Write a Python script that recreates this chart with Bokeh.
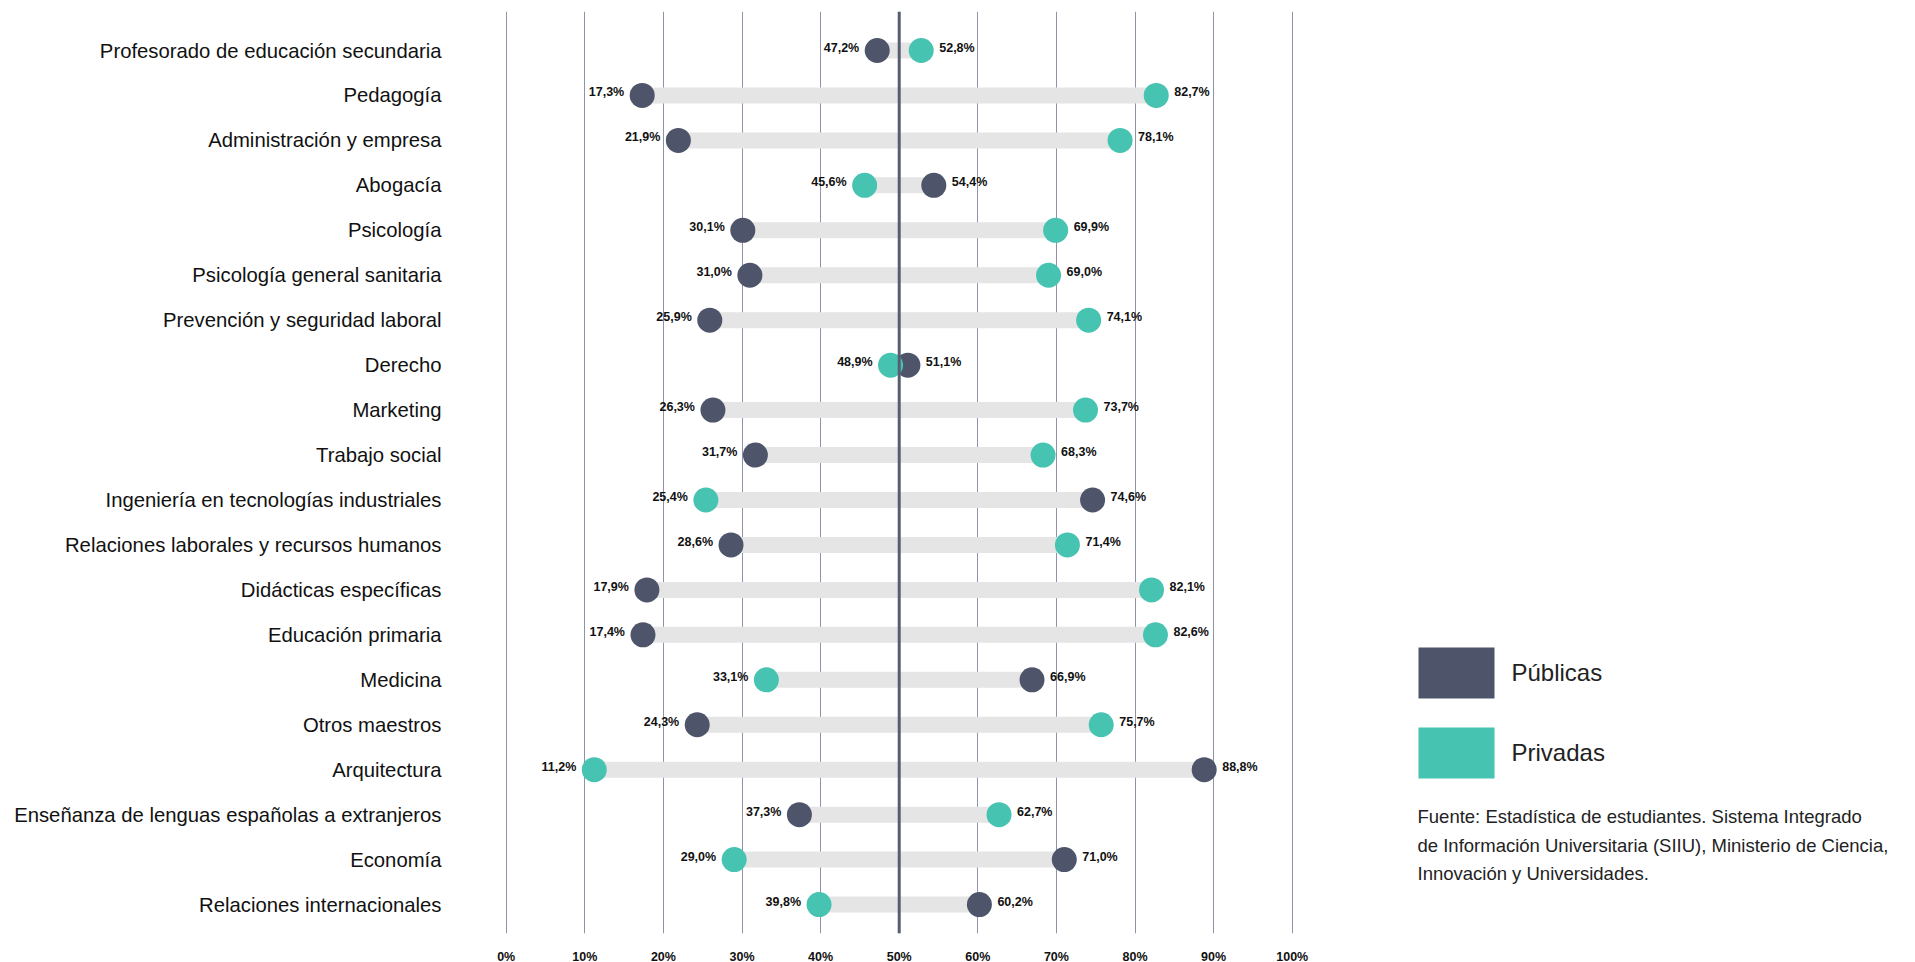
from bokeh.plotting import figure
from bokeh.models import Range1d, FixedTicker, Span, ColumnDataSource
from bokeh.core.properties import value
from bokeh.embed import file_html
from bokeh.resources import INLINE

categories = [
    "Profesorado de educación secundaria",
    "Pedagogía",
    "Administración y empresa",
    "Abogacía",
    "Psicología",
    "Psicología general sanitaria",
    "Prevención y seguridad laboral",
    "Derecho",
    "Marketing",
    "Trabajo social",
    "Ingeniería en tecnologías industriales",
    "Relaciones laborales y recursos humanos",
    "Didácticas específicas",
    "Educación primaria",
    "Medicina",
    "Otros maestros",
    "Arquitectura",
    "Enseñanza de lenguas españolas a extranjeros",
    "Economía",
    "Relaciones internacionales",
]
publicas = [47.2, 17.3, 21.9, 54.4, 30.1, 31.0, 25.9, 51.1, 26.3, 31.7,
            74.6, 28.6, 17.9, 17.4, 66.9, 24.3, 88.8, 37.3, 71.0, 60.2]
privadas = [52.8, 82.7, 78.1, 45.6, 69.9, 69.0, 74.1, 48.9, 73.7, 68.3,
            25.4, 71.4, 82.1, 82.6, 33.1, 75.7, 11.2, 62.7, 29.0, 39.8]
x_ticks = [0, 10, 20, 30, 40, 50, 60, 70, 80, 90, 100]
x_tick_labels = ["0%", "10%", "20%", "30%", "40%", "50%", "60%", "70%", "80%", "90%", "100%"]
series_names = ["Públicas", "Privadas"]
source_lines = [
    "Fuente: Estadística de estudiantes. Sistema Integrado",
    "de Información Universitaria (SIIU), Ministerio de Ciencia,",
    "Innovación y Universidades.",
]

C_PUB = "#4e5469"
C_PRIV = "#47c3b1"
C_BAR = "#e5e5e5"
C_GRID = "#8f92a8"
FONT = "Liberation Sans"

# layout (canvas pixels)
FRAME_LEFT = 490
FRAME_W = 1410
FRAME_TOP = 11
FRAME_H = 922
PX_PER_UNIT = 7.86
X_START = -2.0
ROW0 = 50.0
ROW_PX = 44.95


def dx(px):
    return X_START + (px - FRAME_LEFT) / PX_PER_UNIT


def dy(py):
    return (py - ROW0) / ROW_PX


n = len(categories)
y_top = dy(FRAME_TOP)
y_bot = dy(FRAME_TOP + FRAME_H)

p = figure(
    frame_width=FRAME_W, frame_height=FRAME_H,
    x_range=Range1d(X_START, X_START + FRAME_W / PX_PER_UNIT),
    y_range=Range1d(y_bot, y_top),
    output_backend="svg", toolbar_location=None,
    min_border_left=FRAME_LEFT, min_border_top=FRAME_TOP,
    min_border_bottom=29, min_border_right=8,
)
p.outline_line_color = None
p.background_fill_color = "white"
p.border_fill_color = "white"

# grid
p.ygrid.grid_line_color = None
p.xgrid.ticker = FixedTicker(ticks=x_ticks)
p.xgrid.grid_line_color = C_GRID
p.xgrid.grid_line_width = 1
p.add_layout(Span(location=50, dimension="height", line_color="#575d72", line_width=3))

# axes
p.xaxis.ticker = FixedTicker(ticks=x_ticks)
p.xaxis.major_label_overrides = {t: l for t, l in zip(x_ticks, x_tick_labels)}
p.xaxis.axis_line_color = None
p.xaxis.major_tick_line_color = None
p.xaxis.minor_tick_line_color = None
p.xaxis.major_label_text_font = FONT
p.xaxis.major_label_text_font_style = "bold"
p.xaxis.major_label_text_font_size = "12.5px"
p.xaxis.major_label_text_color = "#111111"
p.xaxis.major_label_standoff = 10

p.yaxis.ticker = FixedTicker(ticks=list(range(n)))
p.yaxis.major_label_overrides = {i: c for i, c in enumerate(categories)}
p.yaxis.axis_line_color = None
p.yaxis.major_tick_line_color = None
p.yaxis.minor_tick_line_color = None
p.yaxis.major_label_text_font = FONT
p.yaxis.major_label_text_font_size = "20.3px"
p.yaxis.major_label_text_color = "#111111"
p.yaxis.major_label_standoff = 43

ys = list(range(n))
lo = [min(a, b) for a, b in zip(publicas, privadas)]
hi = [max(a, b) for a, b in zip(publicas, privadas)]
src = ColumnDataSource(dict(
    y=ys, lo=lo, hi=hi, pub=publicas, priv=privadas,
    lo_txt=[f"{v:.1f}%".replace(".", ",") for v in lo],
    hi_txt=[f"{v:.1f}%".replace(".", ",") for v in hi],
))

p.segment(x0="lo", y0="y", x1="hi", y1="y", source=src, line_color=C_BAR, line_width=16, line_cap="butt")
p.scatter(x="pub", y="y", source=src, size=25, fill_color=C_PUB, line_color=None)
p.scatter(x="priv", y="y", source=src, size=25, fill_color=C_PRIV, line_color=None)

p.text(x="lo", y="y", text="lo_txt", source=src, x_offset=-18, y_offset=-3,
       text_align="right", text_baseline="middle", text_font=value(FONT),
       text_font_style="bold", text_font_size="12.5px", text_color="#111111")
p.text(x="hi", y="y", text="hi_txt", source=src, x_offset=18, y_offset=-3,
       text_align="left", text_baseline="middle", text_font=value(FONT),
       text_font_style="bold", text_font_size="12.5px", text_color="#111111")

# legend
leg_src = ColumnDataSource(dict(
    left=[dx(1418), dx(1418)], right=[dx(1494), dx(1494)],
    top=[dy(647), dy(727)], bottom=[dy(698), dy(778)],
    color=[C_PUB, C_PRIV], tx=[dx(1511), dx(1511)], ty=[dy(672), dy(752)],
    name=series_names,
))
p.quad(left="left", right="right", top="top", bottom="bottom", source=leg_src,
       fill_color="color", line_color=None)
p.text(x="tx", y="ty", text="name", source=leg_src, text_align="left",
       text_baseline="middle", text_font=value(FONT), text_font_size="24px",
       text_color="#222222")

# source note
note_src = ColumnDataSource(dict(
    x=[dx(1417)] * len(source_lines), y=[dy(816), dy(845), dy(873)], t=source_lines,
))
p.text(x="x", y="y", text="t", source=note_src, text_align="left",
       text_baseline="alphabetic", text_font=value(FONT), text_font_size="18.5px",
       text_color="#222222")

open("out.html", "w").write(file_html(p, INLINE))
